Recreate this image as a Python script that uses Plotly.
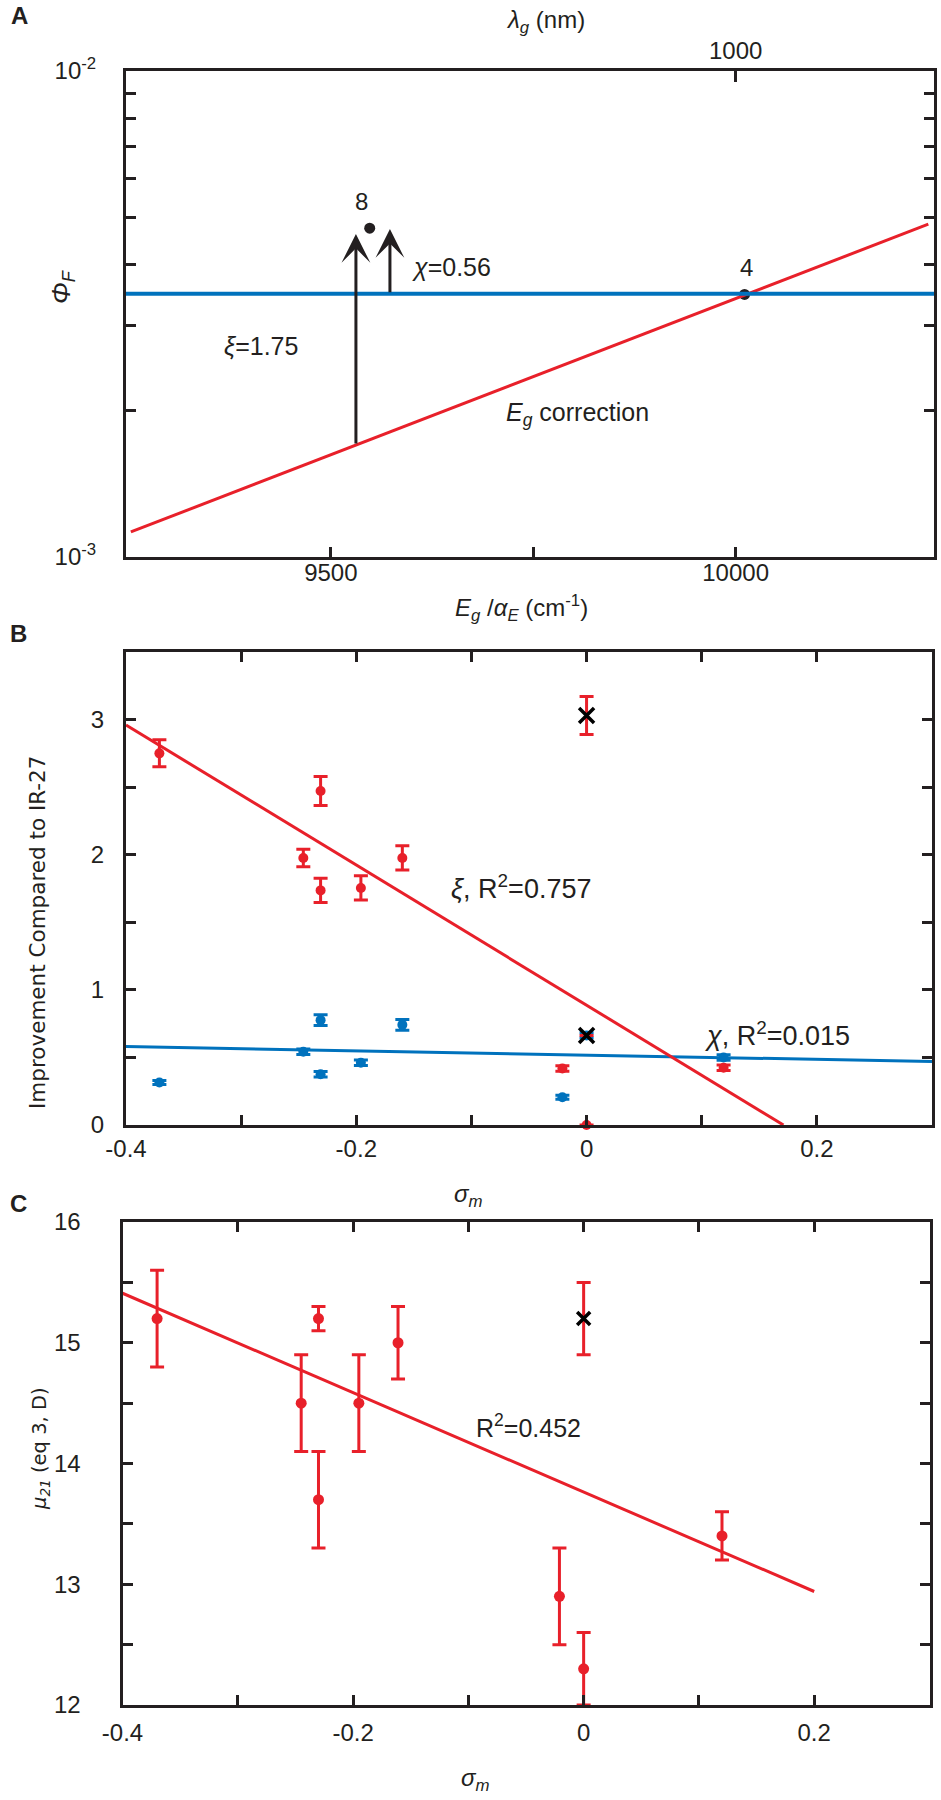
import math
import plotly.graph_objects as go

W, H = 941, 1800
RED = "#E8202A"
BLUE = "#0072BD"
INK = "#231F20"
FONT = "Liberation Sans"
WIDE = "DejaVu Sans"

# ---------------- panel A : Phi_F vs Eg/alpha_E ----------------
a_xrange = [9247, 10245]
a_level_x = [9247, 10245]          # blue reference level spans the axis
a_level_y = [3.48e-3, 3.48e-3]
a_corr_x = [9253, 10238]           # Eg correction (red)
a_corr_y = [1.126e-3, 4.84e-3]
a_pts_x = [9548, 10011]
a_pts_y = [4.75e-3, 3.47e-3]
a_pts_lbl = ["8", "4"]
a_arrow_x = [9531, 9573]
a_arrow_base = [1.70e-3, 3.48e-3]
a_arrow_tip = [4.62e-3, 4.73e-3]
a_yticks = [1e-3, 2e-3, 3e-3, 4e-3, 5e-3, 6e-3, 7e-3, 8e-3, 9e-3, 1e-2]
a_ytext = ["10<sup>-3</sup>", "", "", "", "", "", "", "", "", "10<sup>-2</sup>"]

# ---------------- panel B : improvement vs sigma_m ----------------
b_sigma = [-0.371, -0.246, -0.231, -0.231, -0.196, -0.160, -0.021, 0.119, 0.0]
b_xi = [2.75, 1.976, 2.472, 1.736, 1.754, 1.976, 0.418, 0.424, 0.0]
b_xi_err = [0.10, 0.065, 0.107, 0.09, 0.09, 0.09, 0.02, 0.02, 0.0]
b_chi_sigma = [-0.371, -0.246, -0.231, -0.231, -0.196, -0.160, -0.021, 0.119, 0.0]
b_chi = [0.314, 0.542, 0.776, 0.375, 0.461, 0.741, 0.205, 0.499, 0.663]
b_chi_err = [0.015, 0.02, 0.04, 0.02, 0.02, 0.04, 0.015, 0.02, 0.02]
b_ref_sigma = [0.0, 0.0]
b_ref_val = [3.03, 0.663]
b_ref_err = [0.14, 0.0]
b_xi_fit_x = [-0.4, 0.171]
b_xi_fit_y = [2.96, 0.0]
b_chi_fit_x = [-0.4, 0.3]
b_chi_fit_y = [0.58, 0.47]
b_yticks = [0, 0.5, 1, 1.5, 2, 2.5, 3, 3.5]
b_ytext = ["0", "", "1", "", "2", "", "3", ""]

# ---------------- panel C : mu21 vs sigma_m ----------------
c_sigma = [-0.370, -0.245, -0.230, -0.230, -0.195, -0.161, -0.021, 0.0, 0.120]
c_mu = [15.2, 14.5, 15.2, 13.7, 14.5, 15.0, 12.9, 12.3, 13.4]
c_err = [0.4, 0.4, 0.1, 0.4, 0.4, 0.3, 0.4, 0.3, 0.2]
c_ref_sigma = [0.0]
c_ref_mu = [15.2]
c_ref_err = [0.3]
c_fit_x = [-0.4, 0.2]
c_fit_y = [15.41, 12.94]
c_yticks = [12, 12.5, 13, 13.5, 14, 14.5, 15, 15.5, 16]
c_ytext = ["12", "", "13", "", "14", "", "15", "", "16"]

sig_range = [-0.4, 0.3]
sig_ticks = [-0.4, -0.3, -0.2, -0.1, 0, 0.1, 0.2, 0.3]
sig_text = ["-0.4", "", "-0.2", "", "0", "", "0.2", ""]


def px(x, y):
    return x / W, 1 - y / H


def frame(**kw):
    d = dict(showline=True, linewidth=3, linecolor=INK, mirror=True,
             ticks="inside", ticklen=10, tickwidth=3, tickcolor=INK,
             showgrid=False, zeroline=False, automargin=False,
             tickfont=dict(family=FONT, size=24, color=INK))
    d.update(kw)
    return d


def twin(**kw):
    # opposite-side axis that only carries the inward ticks
    d = dict(ticks="inside", ticklen=10, tickwidth=3, tickcolor=INK,
             showticklabels=False, showline=False, showgrid=False,
             zeroline=False, automargin=False)
    d.update(kw)
    return d


def err(vals, color, width=7):
    return dict(type="data", array=vals, visible=True, color=color,
                thickness=3, width=width)


fig = go.Figure()

# panel A
fig.add_trace(go.Scatter(x=a_level_x, y=a_level_y, mode="lines",
                         line=dict(color=BLUE, width=4), xaxis="x4", yaxis="y"))
fig.add_trace(go.Scatter(x=a_corr_x, y=a_corr_y, mode="lines",
                         line=dict(color=RED, width=3), xaxis="x", yaxis="y4"))
fig.add_trace(go.Scatter(x=a_pts_x, y=a_pts_y, mode="markers",
                         marker=dict(color=INK, size=11), xaxis="x", yaxis="y"))

# panel B
fig.add_trace(go.Scatter(x=b_chi_sigma, y=b_chi, mode="markers",
                         error_y=err(b_chi_err, BLUE),
                         marker=dict(color=BLUE, size=10), xaxis="x2", yaxis="y2"))
fig.add_trace(go.Scatter(x=b_sigma, y=b_xi, mode="markers", cliponaxis=False,
                         error_y=err(b_xi_err, RED),
                         marker=dict(color=RED, size=10), xaxis="x2", yaxis="y2"))
fig.add_trace(go.Scatter(x=b_xi_fit_x, y=b_xi_fit_y, mode="lines",
                         line=dict(color=RED, width=3), xaxis="x5", yaxis="y2"))
fig.add_trace(go.Scatter(x=b_chi_fit_x, y=b_chi_fit_y, mode="lines",
                         line=dict(color=BLUE, width=3), xaxis="x2", yaxis="y5"))
fig.add_trace(go.Scatter(x=b_ref_sigma, y=b_ref_val, mode="markers",
                         error_y=err(b_ref_err, RED),
                         marker=dict(symbol="x-thin-open", size=15, color="black",
                                     line=dict(color="black", width=3.5)),
                         xaxis="x5", yaxis="y5"))

# panel C
fig.add_trace(go.Scatter(x=c_sigma, y=c_mu, mode="markers",
                         error_y=err(c_err, RED),
                         marker=dict(color=RED, size=11), xaxis="x3", yaxis="y3"))
fig.add_trace(go.Scatter(x=c_fit_x, y=c_fit_y, mode="lines",
                         line=dict(color=RED, width=3), xaxis="x6", yaxis="y3"))
fig.add_trace(go.Scatter(x=c_ref_sigma, y=c_ref_mu, mode="markers",
                         error_y=err(c_ref_err, RED),
                         marker=dict(symbol="x-thin-open", size=13, color="black",
                                     line=dict(color="black", width=3.5)),
                         xaxis="x3", yaxis="y6"))

ann = []


def label(x, y, text, size=24, family=FONT, angle=0, bold=False):
    xp, yp = px(x, y)
    ann.append(dict(x=xp, y=yp, xref="paper", yref="paper", text=text,
                    showarrow=False, textangle=angle, xanchor="center",
                    yanchor="middle",
                    font=dict(family=family, size=size, color=INK,
                              weight="bold" if bold else "normal")))


# panel letters
label(19, 16, "A", size=24, bold=True)
label(18, 633, "B", size=24, bold=True)
label(18, 1203, "C", size=24, bold=True)

# axis titles
label(545, 21, "<i>λ<sub>g</sub></i> (nm)", size=24)
label(521, 608, "<i>E<sub>g</sub></i> /<i>α<sub>E</sub></i> (cm<sup>-1</sup>)", size=24)
label(62, 287, "<i>Φ<sub>F</sub></i>", size=26, angle=-90)
label(37, 933, "Improvement Compared to IR-27", size=21.5, family=WIDE, angle=-90)
label(468, 1195, "<i>σ<sub>m</sub></i>", size=24)
label(40, 1449, "<i>μ<sub>21</sub></i> (eq 3, D)", size=19.5, family=WIDE, angle=-90)
label(475, 1779, "<i>σ<sub>m</sub></i>", size=24)

# in-plot text, panel A (log axis -> log10 coordinates)
for xv, yv, t in zip(a_pts_x, a_pts_y, a_pts_lbl):
    ann.append(dict(x=xv, y=math.log10(yv), xref="x", yref="y", text=t,
                    showarrow=False, yshift=27, xshift=-8 if t == "8" else 2,
                    font=dict(family=FONT, size=24, color=INK)))
ann.append(dict(x=9649, y=-2.403, xref="x", yref="y", text="<i>χ</i>=0.56",
                showarrow=False, font=dict(family=FONT, size=25, color=INK)))
ann.append(dict(x=9414, y=-2.566, xref="x", yref="y", text="<i>ξ</i>=1.75",
                showarrow=False, font=dict(family=FONT, size=25, color=INK)))
ann.append(dict(x=9805, y=-2.706, xref="x", yref="y",
                text="<i>E<sub>g</sub></i> correction",
                showarrow=False, font=dict(family=FONT, size=25, color=INK)))
for xv, b, t in zip(a_arrow_x, a_arrow_base, a_arrow_tip):
    ann.append(dict(x=xv, y=math.log10(t), ax=xv, ay=math.log10(b),
                    xref="x", yref="y", axref="x", ayref="y", text="",
                    showarrow=True, arrowhead=3, arrowsize=1.6, arrowwidth=3,
                    arrowcolor=INK, standoff=0))

# panel B / C text
ann.append(dict(x=-0.057, y=1.76, xref="x2", yref="y2",
                text="<i>ξ</i>, R<sup>2</sup>=0.757", showarrow=False,
                font=dict(family=FONT, size=27, color=INK)))
ann.append(dict(x=0.166, y=0.67, xref="x2", yref="y2",
                text="<i>χ</i>, R<sup>2</sup>=0.015", showarrow=False,
                font=dict(family=FONT, size=27, color=INK)))
ann.append(dict(x=-0.048, y=14.31, xref="x3", yref="y3",
                text="R<sup>2</sup>=0.452", showarrow=False,
                font=dict(family=FONT, size=25, color=INK)))

dA_x = [126 / W, 934 / W]
dA_y = [1 - 557 / H, 1 - 71 / H]
dB_x = [126 / W, 932 / W]
dB_y = [1 - 1125 / H, 1 - 652 / H]
dC_x = [122.5 / W, 929.5 / W]
dC_y = [1 - 1705 / H, 1 - 1222 / H]

fig.update_layout(
    template="none",
    width=W, height=H, margin=dict(l=0, r=0, t=0, b=0, autoexpand=False),
    paper_bgcolor="white", plot_bgcolor="white", showlegend=False,
    # panel A
    xaxis=frame(domain=dA_x, anchor="y", range=a_xrange,
                tickvals=[9500, 9750, 10000], ticktext=["9500", "", "10000"],
                ticklabelstandoff=-8),
    xaxis4=dict(overlaying="x", side="top", anchor="y", range=a_xrange,
                tickvals=[10000], ticktext=["1000"], ticks="inside",
                ticklen=11, tickwidth=3, tickcolor=INK, showline=False,
                showgrid=False, zeroline=False, ticklabelstandoff=6,
                automargin=False,
                tickfont=dict(family=FONT, size=24, color=INK)),
    yaxis=frame(domain=dA_y, anchor="x", type="log", range=[-3, -2],
                tickvals=a_yticks, ticktext=a_ytext, ticklabelstandoff=22),
    yaxis4=twin(overlaying="y", side="right", anchor="x", type="log",
                range=[-3, -2], tickvals=a_yticks),
    # panel B
    xaxis2=frame(domain=dB_x, anchor="y2", range=sig_range,
                 tickvals=sig_ticks, ticktext=sig_text, ticklabelstandoff=0),
    xaxis5=twin(overlaying="x2", side="top", anchor="y2", range=sig_range,
                tickvals=sig_ticks),
    yaxis2=frame(domain=dB_y, anchor="x2", range=[0, 3.5],
                 tickvals=b_yticks, ticktext=b_ytext, ticklabelstandoff=14),
    yaxis5=twin(overlaying="y2", side="right", anchor="x2", range=[0, 3.5],
                tickvals=b_yticks),
    # panel C
    xaxis3=frame(domain=dC_x, anchor="y3", range=sig_range,
                 tickvals=sig_ticks, ticktext=sig_text, ticklabelstandoff=4),
    xaxis6=twin(overlaying="x3", side="top", anchor="y3", range=sig_range,
                tickvals=sig_ticks),
    yaxis3=frame(domain=dC_y, anchor="x3", range=[12, 16],
                 tickvals=c_yticks, ticktext=c_ytext, ticklabelstandoff=34),
    yaxis6=twin(overlaying="y3", side="right", anchor="x3", range=[12, 16],
                tickvals=c_yticks),
    annotations=ann,
)

# the page's default 8px body margin would push the right frame off-screen
fig.write_html("out.html", config={"displayModeBar": False},
               post_script="document.body.style.margin='0px';")
